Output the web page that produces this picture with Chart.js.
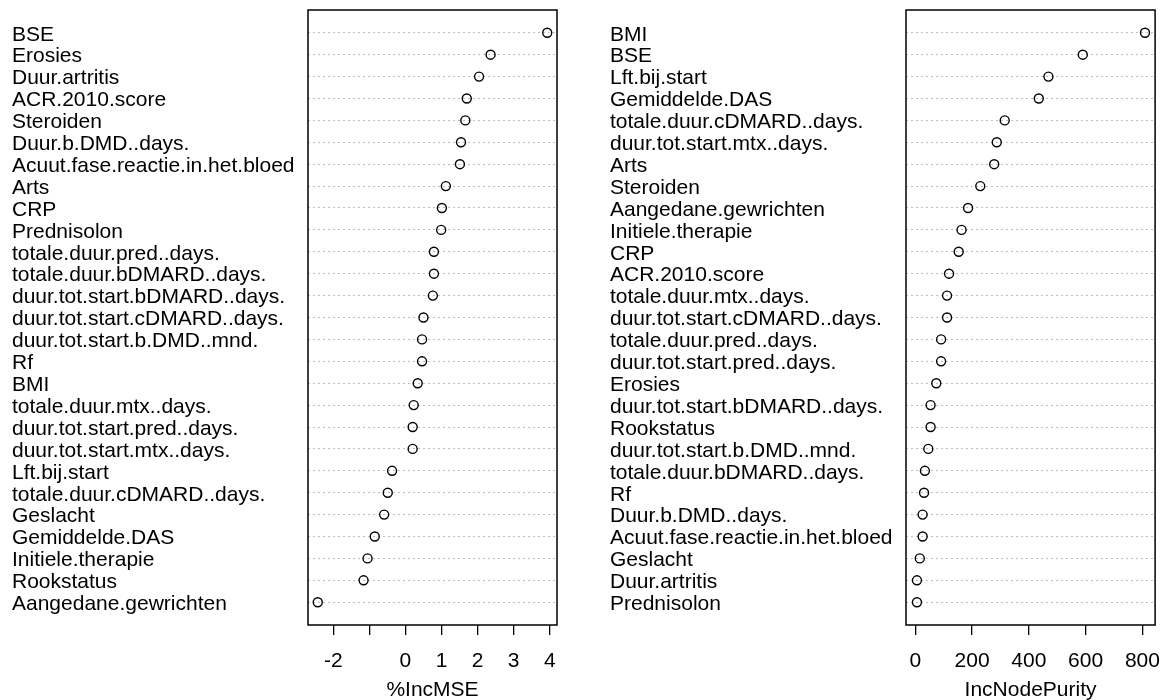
<!DOCTYPE html>
<html>
<head>
<meta charset="utf-8">
<script src="https://cdn.jsdelivr.net/npm/chart.js@4.4.0/dist/chart.umd.min.js"></script>
<style>
  html, body { margin: 0; padding: 0; background: #fff; width: 1161px; height: 700px; overflow: hidden; }
  .wrap { position: absolute; top: 0; height: 703px; }
  #w1 { left: 0; width: 580px; }
  #w2 { left: 590px; width: 571px; }
</style>
</head>
<body>
<div class="wrap" id="w1"><canvas id="c1"></canvas></div>
<div class="wrap" id="w2"><canvas id="c2"></canvas></div>
<script>
// ---- Data ----
const mseLabels = ["BSE","Erosies","Duur.artritis","ACR.2010.score","Steroiden","Duur.b.DMD..days.",
  "Acuut.fase.reactie.in.het.bloed","Arts","CRP","Prednisolon","totale.duur.pred..days.",
  "totale.duur.bDMARD..days.","duur.tot.start.bDMARD..days.","duur.tot.start.cDMARD..days.",
  "duur.tot.start.b.DMD..mnd.","Rf","BMI","totale.duur.mtx..days.","duur.tot.start.pred..days.",
  "duur.tot.start.mtx..days.","Lft.bij.start","totale.duur.cDMARD..days.","Geslacht",
  "Gemiddelde.DAS","Initiele.therapie","Rookstatus","Aangedane.gewrichten"];
const mseValues = [3.93,2.36,2.04,1.70,1.66,1.54,1.51,1.12,1.01,0.99,0.79,0.79,0.76,0.50,
  0.46,0.46,0.34,0.23,0.20,0.20,-0.37,-0.49,-0.59,-0.85,-1.05,-1.16,-2.43];
const mseTicks = [-2,-1,0,1,2,3,4];
const mseTickLabels = ["-2","","0","1","2","3","4"];
const mseTitle = "%IncMSE";

const purityLabels = ["BMI","BSE","Lft.bij.start","Gemiddelde.DAS","totale.duur.cDMARD..days.",
  "duur.tot.start.mtx..days.","Arts","Steroiden","Aangedane.gewrichten","Initiele.therapie","CRP",
  "ACR.2010.score","totale.duur.mtx..days.","duur.tot.start.cDMARD..days.","totale.duur.pred..days.",
  "duur.tot.start.pred..days.","Erosies","duur.tot.start.bDMARD..days.","Rookstatus",
  "duur.tot.start.b.DMD..mnd.","totale.duur.bDMARD..days.","Rf","Duur.b.DMD..days.",
  "Acuut.fase.reactie.in.het.bloed","Geslacht","Duur.artritis","Prednisolon"];
const purityValues = [809,590,469,435,315,287,278,229,186,163,153,119,112,112,91,91,74,54,54,
  46,34,31,26,26,16,6,6];
const purityTicks = [0,200,400,600,800];
const purityTickLabels = ["0","200","400","600","800"];
const purityTitle = "IncNodePurity";

// ---- Drawing ----
const FONT = "'Liberation Sans', Arial, sans-serif";
Chart.defaults.font.family = FONT;
Chart.defaults.color = '#000';

const boxPlugin = {
  id: 'box',
  afterDatasetsDraw(chart) {
    const a = chart.chartArea, ctx = chart.ctx;
    ctx.save();
    ctx.strokeStyle = '#000';
    ctx.lineWidth = 1.5;
    ctx.strokeRect(a.left, a.top, a.right - a.left, a.bottom - a.top);
    ctx.restore();
  }
};

function makeChart(id, labels, values, ticks, tickLabels, title, xmin, xmax, padLeft, axisWidth, padRight) {
  const n = labels.length;
  const pts = values.map((v, i) => ({x: v, y: i + 1}));
  return new Chart(document.getElementById(id), {
    type: 'scatter',
    data: { datasets: [{
      data: pts,
      pointStyle: 'circle',
      pointRadius: 4.5,
      pointHoverRadius: 4.5,
      pointBorderWidth: 1.4,
      pointBorderColor: '#000',
      pointBackgroundColor: 'rgba(0,0,0,0)',
      showLine: false
    }]},
    options: {
      responsive: true,
      maintainAspectRatio: false,
      animation: false,
      events: [],
      layout: { padding: { left: padLeft, right: padRight, top: 10, bottom: 0 } },
      plugins: { legend: { display: false }, tooltip: { enabled: false } },
      scales: {
        x: {
          type: 'linear',
          min: xmin, max: xmax,
          afterBuildTicks(s) { s.ticks = ticks.map(v => ({value: v})); },
          afterFit(s) { s.height = 78; s.paddingLeft = 0; s.paddingRight = 0; },
          grid: { display: true, drawOnChartArea: false, drawTicks: true, tickLength: 10, color: '#000', lineWidth: 1.3 },
          border: { display: false },
          ticks: {
            autoSkip: false, maxRotation: 0, padding: 14,
            font: { size: 21, family: FONT }, color: '#000',
            callback(v) { const k = ticks.indexOf(v); return k >= 0 ? tickLabels[k] : ''; }
          },
          title: { display: true, text: title, font: { size: 21, family: FONT }, color: '#000', padding: { top: 0, bottom: 0 } }
        },
        y: {
          type: 'linear',
          reverse: true,
          min: 1 - 0.04 * (n - 1), max: n + 0.04 * (n - 1),
          afterBuildTicks(s) { s.ticks = labels.map((_, i) => ({value: i + 1})); },
          afterFit(s) { s.width = axisWidth; s.paddingTop = 0; s.paddingBottom = 0; },
          grid: { display: true, drawOnChartArea: true, drawTicks: false, color: '#bebebe', lineWidth: 1 },
          border: { display: false, dash: [2, 3] },
          ticks: {
            autoSkip: false, crossAlign: 'far', padding: 0, labelOffset: 2,
            font: { size: 21, family: FONT }, color: '#000',
            callback(v) { return labels[Math.round(v) - 1] || ''; }
          }
        }
      }
    },
    plugins: [boxPlugin]
  });
}

makeChart('c1', mseLabels, mseValues, mseTicks, mseTickLabels, mseTitle, -2.70, 4.20, 12, 296, 23);
makeChart('c2', purityLabels, purityValues, purityTicks, purityTickLabels, purityTitle, -32.6, 844.6, 20, 296, 5);
</script>
</body>
</html>
